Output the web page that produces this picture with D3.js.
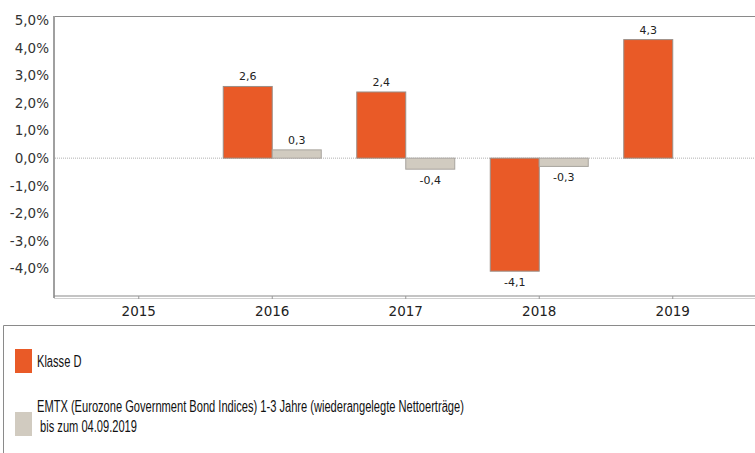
<!DOCTYPE html>
<html lang="de">
<head>
<meta charset="UTF-8">
<title>Chart</title>
<script src="https://cdn.jsdelivr.net/npm/d3@7"></script>
<style>
    body { margin: 0; background: #fff; }
    svg { display: block; }
</style>
</head>
<body>
<svg id="svg" width="755" height="453"></svg>
<script>
    const years = ["2015", "2016", "2017", "2018", "2019"];
    const klasseD = [null, 2.6, 2.4, -4.1, 4.3];
    const emtx = [null, 0.3, -0.4, -0.3, null];
    const yTicks = [-4, -3, -2, -1, 0, 1, 2, 3, 4, 5];
    const legendLabels = [
        ["Klasse D"],
        ["EMTX (Eurozone Government Bond Indices) 1-3 Jahre (wiederangelegte Nettoerträge)", " bis zum 04.09.2019"]
    ];

    const orange = "#E95A27";
    const grey = "#D1CBC0";
    const fmt = v => d3.format(".1f")(v).replace(".", ",").replace("\u2212", "-");

    const svg = d3.select("#svg");
    const plotLeft = 54, plotTop = 16, plotBottom = 296;

    const x = d3.scaleBand().domain(years).range([72, 739.5]);
    const y = d3.scaleLinear().domain([-5, 5]).range([plotBottom, 20.3]);
    const barW = 49;

    // frame
    svg.append("line").attr("x1", plotLeft).attr("x2", 755).attr("y1", plotTop + 0.5).attr("y2", plotTop + 0.5)
        .attr("stroke", "#8a8a8a").attr("stroke-width", 1);
    svg.append("line").attr("x1", plotLeft).attr("x2", plotLeft).attr("y1", plotTop).attr("y2", plotBottom + 2)
        .attr("stroke", "#a0a0a0").attr("stroke-width", 2);
    svg.append("line").attr("x1", plotLeft).attr("x2", 755).attr("y1", plotBottom).attr("y2", plotBottom)
        .attr("stroke", "#8a8a8a").attr("stroke-width", 1.2);
    svg.append("line").attr("x1", plotLeft).attr("x2", 755).attr("y1", plotBottom + 2.5).attr("y2", plotBottom + 2.5)
        .attr("stroke", "#d0d0d0").attr("stroke-width", 1);

    // zero line
    svg.append("line").attr("x1", plotLeft + 1).attr("x2", 755).attr("y1", y(0)).attr("y2", y(0))
        .attr("stroke", "#b0b0b0").attr("stroke-width", 1).attr("stroke-dasharray", "1,1");

    // y labels
    svg.append("g").selectAll("text").data(yTicks).join("text")
        .attr("x", 49).attr("y", d => y(d)).attr("dy", "0.36em")
        .attr("text-anchor", "end")
        .attr("font-family", "DejaVu Sans, sans-serif").attr("font-size", 13.5).attr("fill", "#333")
        .text(d => fmt(d) + "%");

    // x ticks and labels
    const xg = svg.append("g");
    xg.selectAll("line").data(years).join("line")
        .attr("x1", d => x(d) + x.bandwidth() / 2).attr("x2", d => x(d) + x.bandwidth() / 2)
        .attr("y1", plotBottom).attr("y2", plotBottom + 3).attr("stroke", "#999");
    xg.selectAll("text").data(years).join("text")
        .attr("x", d => x(d) + x.bandwidth() / 2).attr("y", 316)
        .attr("text-anchor", "middle")
        .attr("font-family", "DejaVu Sans, sans-serif").attr("font-size", 13.5).attr("fill", "#222")
        .text(d => d);

    // bars
    const series = [
        { values: klasseD, fill: orange, stroke: "#9a8f88", off: -barW },
        { values: emtx, fill: grey, stroke: "#a8a49e", off: 0 }
    ];
    series.forEach(s => {
        const pts = years.map((yr, i) => ({ yr, v: s.values[i] })).filter(d => d.v != null);
        const g = svg.append("g");
        g.selectAll("rect").data(pts).join("rect")
            .attr("x", d => x(d.yr) + x.bandwidth() / 2 + s.off)
            .attr("y", d => y(Math.max(0, d.v)))
            .attr("width", barW)
            .attr("height", d => Math.abs(y(d.v) - y(0)))
            .attr("fill", s.fill).attr("stroke", s.stroke).attr("stroke-width", 1);
        g.selectAll("text").data(pts).join("text")
            .attr("x", d => x(d.yr) + x.bandwidth() / 2 + s.off + barW / 2)
            .attr("y", d => d.v >= 0 ? y(d.v) - 6 : y(d.v) + 15)
            .attr("text-anchor", "middle")
            .attr("font-family", "DejaVu Sans, sans-serif").attr("font-size", 11).attr("fill", "#222")
            .text(d => fmt(d.v));
    });

    // legend box
    svg.append("path").attr("d", "M755,325.5 H3.5 V453")
        .attr("fill", "none").attr("stroke", "#8a8a8a").attr("stroke-width", 1);

    const legend = svg.append("g");
    const legColors = [orange, grey];
    const legY = [349, 412];
    const legText = legend.append("g");
    legendLabels.forEach((lines, i) => {
        legend.append("rect").attr("x", 15).attr("y", legY[i]).attr("width", 17).attr("height", 24)
            .attr("fill", legColors[i]);
        const t = legText.append("text")
            .attr("font-family", "Liberation Sans, Arial, sans-serif")
            .attr("font-size", 16).attr("fill", "#111");
        lines.forEach((ln, j) => {
            t.append("tspan").attr("x", 0).attr("y", (i === 0 ? 367 : 412) + j * 20)
                .attr("xml:space", "preserve").text(ln);
        });
    });
    // squeeze legend text to the narrow face of the original
    const longest = legText.selectAll("tspan").nodes()
        .reduce((m, n) => Math.max(m, n.getComputedTextLength()), 0);
    const squeeze = 427 / longest;
    legText.attr("transform", `translate(37,0) scale(${squeeze},1)`);
</script>
</body>
</html>
